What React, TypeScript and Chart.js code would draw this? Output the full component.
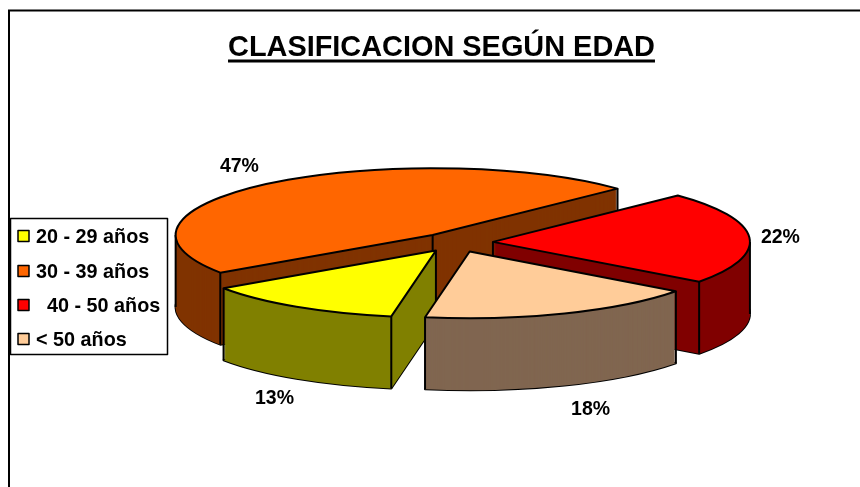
import React, { useEffect, useRef } from "react";
import { Chart, registerables } from "chart.js";

Chart.register(...registerables);

const TITLE = "CLASIFICACION SEGÚN EDAD";
const legendLabels = ["20 - 29 años", "30 - 39 años", "  40 - 50 años", "< 50 años"];
const values = [12.7, 47.3, 22.4, 17.6];
const percentLabels = ["13%", "47%", "22%", "18%"];
const topColors = ["#FFFF00", "#FF6600", "#FF0000", "#FFCC99"];
const wallColors = ["#808000", "#803300", "#800000", "#806650"];
const drawOrder = [1, 0, 2, 3];
const labelNudges = [[-22, 92], [-31, -17], [31, 0], [26, 96]];
const legendRowY = [236, 271, 305, 339];

const CX = 456;
const CY = 242.5;
const TILT = 0.26;
const DEPTH = 72;
const OFFSET = 74; // Chart.js moves an arc by offset / 2
const FONT = "'Liberation Sans', Arial, sans-serif";

const inArc = (t: number, start: number, end: number) =>
  [t, t + 2 * Math.PI, t - 2 * Math.PI].some((v) => v > start && v < end);

const pie3d = {
  id: "pie3d",
  beforeDatasetsDraw(chart: any) {
    const ctx: CanvasRenderingContext2D = chart.ctx;
    const arcs = chart.getDatasetMeta(0).data;
    ctx.save();
    // frame
    ctx.strokeStyle = "#000";
    ctx.lineWidth = 2;
    ctx.beginPath();
    ctx.moveTo(9, 487);
    ctx.lineTo(9, 10.5);
    ctx.lineTo(860, 10.5);
    ctx.stroke();

    ctx.lineJoin = "round";
    for (const i of drawOrder) {
      const a = arcs[i];
      const r = a.outerRadius;
      const start = a.startAngle;
      const end = a.endAngle;
      const mid = (start + end) / 2;
      const ax = CX + Math.cos(mid) * (OFFSET / 2);
      const ay = CY + Math.sin(mid) * (OFFSET / 2) * TILT;
      const path = (dy: number) => {
        ctx.beginPath();
        ctx.moveTo(ax, ay + dy);
        ctx.ellipse(ax, ay + dy, r, r * TILT, 0, start, end);
        ctx.closePath();
      };
      const px = (t: number) => ax + Math.cos(t) * r;
      const py = (t: number) => ay + Math.sin(t) * r * TILT;

      ctx.lineWidth = 2;
      ctx.strokeStyle = "#000";
      path(DEPTH);
      ctx.stroke();
      ctx.fillStyle = wallColors[i];
      for (let d = DEPTH; d >= 0; d--) {
        path(d);
        ctx.fill();
      }
      const verts: [number, number][] = [
        [px(start), py(start)],
        [px(end), py(end)],
      ];
      // the apex edge is hidden when the slice's outer wall faces the viewer in front of it
      if (!inArc(Math.PI / 2, start, end)) verts.push([ax, ay]);
      for (const t of [0, Math.PI]) {
        if (inArc(t, start, end)) verts.push([px(t), py(t)]);
      }
      ctx.beginPath();
      for (const [x, y] of verts) {
        ctx.moveTo(x, y);
        ctx.lineTo(x, y + DEPTH);
      }
      ctx.stroke();
      path(0);
      ctx.fillStyle = topColors[i];
      ctx.fill();
      ctx.stroke();
    }

    // percentage labels
    ctx.fillStyle = "#000";
    ctx.font = `bold 19.5px ${FONT}`;
    ctx.textAlign = "center";
    ctx.textBaseline = "middle";
    arcs.forEach((a: any, i: number) => {
      const mid = (a.startAngle + a.endAngle) / 2;
      const x = CX + Math.cos(mid) * (a.outerRadius + OFFSET / 2) + labelNudges[i][0];
      const y = CY + Math.sin(mid) * (a.outerRadius + OFFSET / 2) * TILT + labelNudges[i][1];
      ctx.fillText(percentLabels[i], x, y);
    });

    // legend
    ctx.fillStyle = "#fff";
    ctx.fillRect(10.5, 218.5, 157, 136);
    ctx.strokeStyle = "#000";
    ctx.lineWidth = 1.5;
    ctx.strokeRect(10.5, 218.5, 157, 136);
    ctx.textAlign = "left";
    ctx.font = `bold 19.8px ${FONT}`;
    legendLabels.forEach((label, i) => {
      const y = legendRowY[i];
      ctx.fillStyle = topColors[i];
      ctx.fillRect(18, y - 5.5, 11, 11);
      ctx.strokeStyle = "#000";
      ctx.lineWidth = 1.5;
      ctx.strokeRect(18, y - 5.5, 11, 11);
      ctx.fillStyle = "#000";
      ctx.fillText(label, 36, y + 2);
    });

    // title underline
    const tb = chart.titleBlock;
    ctx.font = `bold 28.9px ${FONT}`;
    const w = ctx.measureText(TITLE).width;
    const tc = tb.left + tb.width / 2;
    ctx.fillRect(tc - w / 2, 59.5, w, 3);
    ctx.restore();
    return false;
  },
};

export default function App() {
  const ref = useRef<HTMLCanvasElement>(null);
  useEffect(() => {
    const chart = new Chart(ref.current!, {
      type: "pie",
      data: {
        labels: legendLabels,
        datasets: [{ data: values, backgroundColor: topColors, offset: OFFSET, borderColor: "#000", borderWidth: 2 }],
      },
      options: {
        responsive: false,
        animation: false,
        rotation: 190,
        radius: 257,
        layout: { padding: { left: 23 } },
        plugins: {
          legend: { display: false },
          tooltip: { enabled: false },
          title: {
            display: true,
            text: TITLE,
            color: "#000",
            font: { family: FONT, size: 28.9, weight: "bold" },
            padding: { top: 31, bottom: 0 },
          },
        },
      },
      plugins: [pie3d],
    } as any);
    return () => chart.destroy();
  }, []);
  return (
    <div style={{ position: "absolute", left: 0, top: 0, width: 860, height: 487, background: "#fff" }}>
      <canvas ref={ref} width={860} height={487} style={{ display: "block" }} />
    </div>
  );
}
